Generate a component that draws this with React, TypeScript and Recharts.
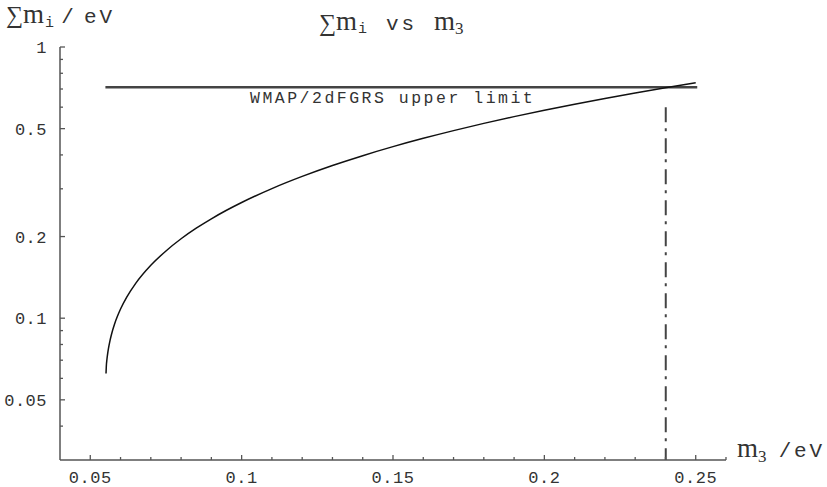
import { LineChart, Line, XAxis, YAxis, ReferenceLine } from 'recharts';

// neutrino mass sum vs heaviest mass
const m3Values = [
  0.0552, 0.0553, 0.0555, 0.0557, 0.056, 0.0565, 0.057, 0.058, 0.059, 0.06, 0.062, 0.065,
  0.07, 0.075, 0.08, 0.085, 0.09, 0.095, 0.1, 0.11, 0.12, 0.13, 0.14, 0.15, 0.16, 0.17,
  0.18, 0.19, 0.2, 0.21, 0.22, 0.23, 0.24, 0.25,
];
const sumValues = [
  0.0625, 0.0665, 0.0704, 0.0734, 0.0772, 0.0825, 0.0871, 0.095, 0.1018, 0.1081, 0.1193, 0.1344,
  0.1567, 0.177, 0.1963, 0.2147, 0.2325, 0.25, 0.2671, 0.3006, 0.3333, 0.3656, 0.3975, 0.4291,
  0.4605, 0.4917, 0.5228, 0.5537, 0.5846, 0.6154, 0.646, 0.6767, 0.7072, 0.7378,
];

const limitValue = 0.71;
const limitRange = [0.055, 0.2505];
const crossM3 = 0.2401;
const crossTop = 0.6;

const xTicks = [
  0.05, 0.06, 0.07, 0.08, 0.09, 0.1, 0.11, 0.12, 0.13, 0.14, 0.15, 0.16, 0.17, 0.18, 0.19,
  0.2, 0.21, 0.22, 0.23, 0.24, 0.25, 0.26,
];
const xMajor = [0.05, 0.1, 0.15, 0.2, 0.25];
const xLabels = ['0.05', '0.1', '0.15', '0.2', '0.25'];

const yTicks = [0.04, 0.05, 0.06, 0.07, 0.08, 0.09, 0.1, 0.2, 0.3, 0.4, 0.5, 0.6, 0.7, 0.8, 0.9, 1];
const yMajor = [0.05, 0.1, 0.2, 0.5, 1];
const yLabels = ['0.05', '0.1', '0.2', '0.5', '1'];

const data = m3Values.map((m3, i) => ({ m3, sum: sumValues[i] }));

const MONO = '"Liberation Mono", monospace';
const SERIF = '"Liberation Serif", "DejaVu Serif", serif';
const AXIS = '#555';
const INK = '#333';

const near = (a: number, b: number) => Math.abs(a - b) < 1e-6;

function XTick(props: any) {
  const { x, y, payload } = props;
  const idx = xMajor.findIndex((v) => near(v, payload.value));
  const major = idx >= 0;
  return (
    <g>
      <line x1={x} x2={x} y1={y} y2={y - (major ? 5 : 3)} stroke={AXIS} strokeWidth={1.3} />
      {major && (
        <text x={x} y={y + 23} textAnchor="middle" fontFamily={MONO} fontSize={17} fill={INK} letterSpacing={0.5}>
          {xLabels[idx]}
        </text>
      )}
    </g>
  );
}

function YTick(props: any) {
  const { x, y, payload } = props;
  const idx = yMajor.findIndex((v) => near(v, payload.value));
  const major = idx >= 0;
  return (
    <g>
      <line x1={x} x2={x + (major ? 5 : 3)} y1={y} y2={y} stroke={AXIS} strokeWidth={1.3} />
      {major && (
        <text x={x - 13} y={y + 6} textAnchor="end" fontFamily={MONO} fontSize={17} fill={INK} letterSpacing={0.5}>
          {yLabels[idx]}
        </text>
      )}
    </g>
  );
}

export default function App() {
  return (
    <div style={{ position: 'absolute', left: 0, top: 0, width: 827, height: 487, background: '#fff' }}>
      <LineChart width={827} height={487} data={data} margin={{ top: 47, right: 101, bottom: 0, left: 0 }}>
        <XAxis
          dataKey="m3"
          type="number"
          domain={[0.04, 0.26]}
          allowDataOverflow
          ticks={xTicks}
          interval={0}
          height={27}
          tickSize={0}
          tickMargin={0}
          tickLine={false}
          tick={<XTick />}
          axisLine={{ stroke: AXIS, strokeWidth: 1.5 }}
        />
        <YAxis
          dataKey="sum"
          scale="log"
          domain={[0.03, 1]}
          allowDataOverflow
          ticks={yTicks}
          interval={0}
          width={60}
          tickSize={0}
          tickMargin={0}
          tickLine={false}
          tick={<YTick />}
          axisLine={{ stroke: AXIS, strokeWidth: 1.5 }}
        />
        <ReferenceLine
          segment={[{ x: limitRange[0], y: limitValue }, { x: limitRange[1], y: limitValue }]}
          stroke="#444"
          strokeWidth={2.5}
        />
        <ReferenceLine
          segment={[{ x: crossM3, y: crossTop }, { x: crossM3, y: 0.03 }]}
          stroke="#444"
          strokeWidth={2}
          strokeDasharray="15 6 3 7"
        />
        <Line
          type="monotone"
          dataKey="sum"
          stroke="#111"
          strokeWidth={1.5}
          dot={false}
          isAnimationActive={false}
        />
      </LineChart>
      <svg width={827} height={487} style={{ position: 'absolute', left: 0, top: 0, pointerEvents: 'none' }}>
        {/* y axis label */}
        <text x={6} y={23} fontFamily={SERIF} fontSize={24} fill={INK}>∑</text>
        <text x={23} y={23} fontFamily={SERIF} fontSize={27} fill={INK}>m</text>
        <text x={45} y={27} fontFamily={MONO} fontSize={15} fill={INK}>i</text>
        <text x={67.5} y={23} textAnchor="middle" fontFamily={MONO} fontSize={21} fill={INK}>/</text>
        <text x={84} y={23} fontFamily={MONO} fontSize={21} fill={INK} letterSpacing={3}>eV</text>
        {/* title */}
        <text x={319} y={31} fontFamily={SERIF} fontSize={24} fill={INK}>∑</text>
        <text x={336} y={30} fontFamily={SERIF} fontSize={27} fill={INK}>m</text>
        <text x={358} y={33} fontFamily={MONO} fontSize={15} fill={INK}>i</text>
        <text x={386} y={30} fontFamily={MONO} fontSize={21} fill={INK} letterSpacing={3}>vs</text>
        <text x={434} y={30} fontFamily={SERIF} fontSize={27} fill={INK}>m</text>
        <text x={455} y={34} fontFamily={SERIF} fontSize={17} fill={INK}>3</text>
        {/* limit annotation */}
        <text x={250} y={103} fontFamily={MONO} fontSize={16.5} fill={INK} letterSpacing={2.5}>
          WMAP/2dFGRS upper limit
        </text>
        {/* x axis label */}
        <text x={737} y={457} fontFamily={SERIF} fontSize={27} fill={INK}>m</text>
        <text x={758} y={462} fontFamily={SERIF} fontSize={17} fill={INK}>3</text>
        <text x={785} y={457} textAnchor="middle" fontFamily={MONO} fontSize={21} fill={INK}>/</text>
        <text x={794} y={457} fontFamily={MONO} fontSize={21} fill={INK} letterSpacing={3}>eV</text>
      </svg>
    </div>
  );
}
